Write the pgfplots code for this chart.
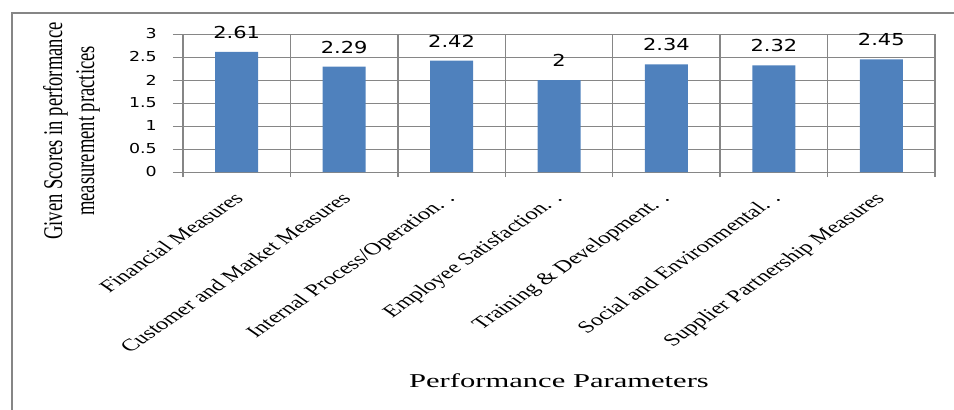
\documentclass[border=0pt]{standalone}
\usepackage{pgfplots}
\pgfplotsset{compat=1.18}
\usepackage{fontspec}
\setmainfont{Liberation Serif}
\newfontfamily\dejavu{DejaVu Sans}
\definecolor{barblue}{RGB}{79,129,189}
\definecolor{gridgray}{RGB}{134,134,134}
\newcommand\xl[1]{\scalebox{1.44}[1]{\rotatebox{45}{\fontsize{17}{20}\selectfont #1}}}
\begin{document}
\begin{tikzpicture}
\useasboundingbox (0,0) rectangle (954pt,410pt);
\draw[gridgray, line width=2pt] (12pt,-5pt) -- (12pt,397pt) -- (960pt,397pt);
\begin{axis}[
  at={(183pt,238pt)}, anchor=south west,
  scale only axis, width=752pt, height=138pt,
  xmin=-0.5, xmax=6.5, ymin=0, ymax=3,
  clip=false,
  ytick={0,0.5,...,3},
  xtick={0,...,6},
  minor xtick={-0.5,0.5,...,6.5},
  xticklabels={\xl{Financial Measures},\xl{Customer and Market Measures},\xl{Internal Process/Operation. .},\xl{Employee Satisfaction. .},\xl{Training \& Development. .},\xl{Social and Environmental. .},\xl{Supplier Partnership Measures}},
  xticklabel style={anchor=north east, inner sep=0pt, xshift=8pt, yshift=-9pt},
  yticklabel={\scalebox{1.27}[1]{\dejavu\fontsize{13.7}{16}\selectfont\pgfmathprintnumber[assume math mode=true]{\tick}}},
  yticklabel style={anchor=east, inner sep=0pt, xshift=-16pt},
  tick pos=left, tick align=outside,
  major tick length=10pt, minor tick length=5pt,
  major x tick style={draw=none},
  minor x tick style={gridgray, line width=1.4pt},
  major y tick style={gridgray, line width=0.9pt},
  ymajorgrids, xminorgrids,
  major grid style={gridgray, line width=0.9pt},
  minor grid style={gridgray, line width=1.4pt},
  axis line style={gridgray, line width=1pt},
  ylabel={\scalebox{1.45}[1]{\rotatebox{90}{\fontsize{18.6}{22}\selectfont\begin{tabular}{@{}c@{}}Given Scores in performance\\measurement practices\end{tabular}}}},
  every axis y label/.style={at={(axis description cs:-0.148,0.297)}, anchor=center},
  xlabel={\scalebox{1.56}[1]{\fontsize{19.6}{23}\selectfont Performance Parameters}},
  every axis x label/.style={at={(axis description cs:0.5,-1.565)}, anchor=base},
  nodes near coords={\scalebox{1.27}[1]{\dejavu\fontsize{16.5}{19}\selectfont\pgfmathprintnumber[assume math mode=true]{\pgfplotspointmeta}}},
  nodes near coords style={anchor=south, inner sep=0pt, yshift=13pt, text=black},
]
\addplot[ybar, bar width=43pt, fill=barblue, draw=none] coordinates {
  (0,2.61) (1,2.29) (2,2.42) (3,2.00) (4,2.34) (5,2.32) (6,2.45)
};
\end{axis}
\end{tikzpicture}
\end{document}
